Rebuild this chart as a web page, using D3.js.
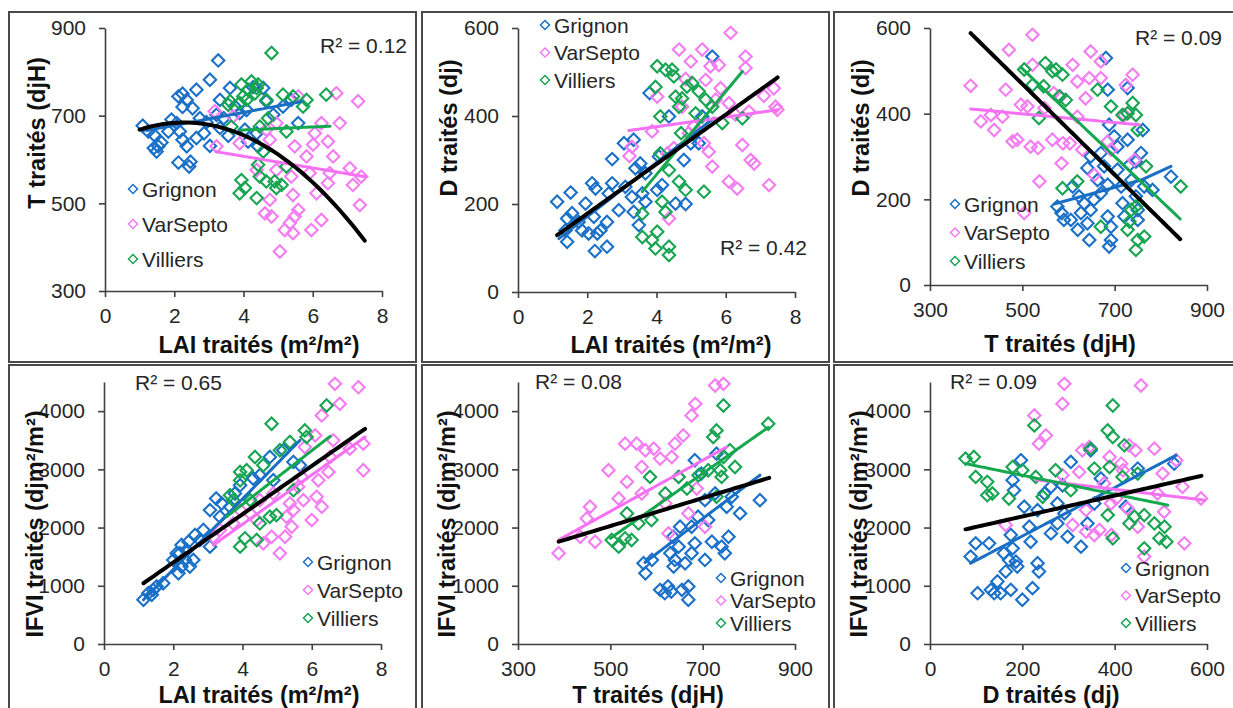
<!DOCTYPE html>
<html>
<head>
<meta charset="utf-8">
<script src="https://cdn.jsdelivr.net/npm/d3@7"></script>
<style>
  html, body { margin: 0; padding: 0; background: #fff; }
  svg { display: block; font-family: "Liberation Sans", Arial, sans-serif; }
</style>
</head>
<body>
<script>
// ---- sites ----
const SITES = ["Grignon", "VarSepto", "Villiers"];

// ---- LAI vs T ----
const laiT_grignon = [[1.09,677],[1.25,664],[1.42,656],[1.41,626],[1.49,618],[1.63,639],[1.54,630],[2.12,744],[2.24,750],[2.36,736],[2.24,720],[2.53,717],[2.64,759],[2.07,683],[2.16,664],[2.24,645],[2.36,630],[2.12,593],[2.47,595],[2.43,584],[2.74,694],[2.86,660],[3.03,782],[3.03,631],[3.27,826],[3.32,736],[3.43,694],[3.56,654],[3.61,763],[3.75,721],[3.89,706],[4.09,713],[4.04,668],[4.13,641],[4.28,765],[4.38,660],[4.57,763],[4.66,733],[4.86,702],[4.42,630],[5.14,721],[5.38,736],[5.58,683],[3.22,702],[3.32,672],[1.83,664],[1.92,691],[2.64,649],[2.93,685]];
const laiT_varsepto = [[3.17,710],[3.22,630],[3.70,698],[3.89,637],[4.62,477],[4.81,470],[4.66,668],[4.76,645],[4.95,576],[5.05,390],[5.19,439],[5.34,455],[5.43,432],[5.48,470],[5.58,485],[5.38,561],[5.43,519],[5.48,630],[5.58,744],[5.82,607],[5.91,569],[6.01,634],[6.06,660],[5.96,439],[6.11,523],[6.25,462],[6.25,683],[6.44,641],[6.49,569],[6.59,607],[6.44,546],[6.68,751],[6.78,683],[7.07,580],[7.16,542],[7.31,733],[7.40,561],[7.36,496],[4.76,508],[4.38,576],[4.95,683]];
const laiT_villiers = [[4.81,843],[3.94,771],[4.23,778],[4.38,763],[4.13,759],[3.99,744],[3.61,733],[3.56,725],[3.89,729],[4.33,751],[4.42,771],[4.66,736],[5.14,748],[5.43,744],[5.82,736],[5.72,721],[6.39,748],[3.65,675],[4.71,694],[4.47,675],[5.24,664],[4.57,618],[4.42,588],[4.47,561],[4.66,550],[3.94,553],[4.04,535],[3.89,523],[4.38,512],[4.90,550],[4.95,535],[5.10,542],[5.24,584],[4.09,736]];

// ---- LAI vs D ----
const laiD_grignon = [[1.13,205],[1.52,226],[1.42,167],[1.56,179],[1.37,140],[1.42,114],[1.75,159],[1.85,140],[2.04,133],[2.14,247],[2.24,235],[2.19,171],[2.29,133],[2.22,93],[2.38,140],[2.57,103],[2.57,159],[2.62,224],[2.72,302],[2.91,186],[3.06,338],[3.10,239],[3.29,216],[3.34,346],[3.39,281],[3.53,292],[3.49,152],[3.34,182],[3.59,224],[3.68,205],[3.80,452],[4.07,308],[4.02,232],[4.16,243],[4.36,399],[4.55,201],[4.79,300],[4.84,200],[4.99,338],[5.22,338],[5.61,535],[5.32,399],[2.72,247],[1.95,201],[3.68,270]];
const laiD_varsepto = [[3.22,309],[4.02,444],[4.31,315],[4.36,167],[4.50,327],[4.65,551],[4.74,421],[4.84,484],[4.99,524],[5.08,376],[5.32,551],[5.42,482],[5.51,319],[5.61,285],[5.56,513],[5.71,437],[5.80,516],[5.85,463],[6.09,429],[6.14,589],[6.09,251],[6.28,403],[6.33,235],[6.48,334],[6.57,509],[6.57,535],[6.67,410],[6.72,300],[6.82,292],[7.10,446],[7.25,243],[7.39,463],[7.44,421],[7.49,414],[3.29,330],[3.87,365],[4.93,361],[5.37,338]];
const laiD_villiers = [[4.02,513],[3.97,466],[4.11,399],[4.26,505],[4.45,505],[4.50,490],[4.55,444],[4.65,421],[4.74,440],[4.88,467],[5.03,475],[5.22,456],[5.42,437],[5.61,421],[5.90,384],[6.48,395],[3.59,178],[3.59,125],[3.87,118],[4.02,137],[3.97,99],[4.36,103],[4.36,84],[4.16,205],[4.26,182],[4.36,277],[4.65,251],[4.84,232],[5.37,228],[4.71,361],[4.11,315],[5.13,406]];

// ---- T vs D ----
const tD_grignon = [[576,183],[585,168],[590,152],[605,152],[620,129],[627,168],[634,191],[645,105],[641,144],[648,175],[655,199],[663,245],[641,273],[648,300],[670,214],[685,234],[688,90],[692,105],[692,136],[685,160],[677,277],[670,308],[681,530],[685,456],[688,374],[699,347],[706,323],[706,269],[714,230],[717,191],[721,160],[728,339],[732,280],[736,245],[728,460],[746,207],[750,175],[750,152],[746,288],[757,308],[761,362],[764,230],[782,222],[822,253],[623,207],[609,230]];
const tD_varsepto = [[388,465],[410,382],[432,397],[439,362],[457,393],[471,549],[464,456],[479,335],[497,421],[518,323],[522,584],[522,514],[534,320],[537,242],[548,413],[565,339],[568,448],[582,440],[585,284],[588,331],[603,331],[609,514],[619,475],[630,316],[637,436],[648,545],[645,483],[656,257],[670,522],[670,483],[685,335],[692,316],[724,467],[739,491],[743,292],[721,397],[619,393],[511,417],[489,339],[504,168]];
const tD_villiers = [[504,503],[522,467],[536,390],[546,464],[550,518],[565,499],[573,503],[587,491],[580,440],[594,432],[663,456],[692,417],[717,397],[728,401],[739,425],[746,397],[750,362],[768,277],[843,230],[587,226],[619,242],[670,136],[728,129],[736,175],[746,183],[750,105],[764,113],[746,82],[732,148]];

// ---- LAI vs IFVI ----
const laiI_grignon = [[1.14,759],[1.28,873],[1.42,930],[1.52,987],[1.71,1044],[1.38,845],[2.15,1215],[2.24,1330],[2.10,1558],[2.24,1700],[2.39,1615],[2.34,1444],[2.48,1330],[2.58,1444],[2.63,1872],[2.87,1957],[3.06,2300],[3.06,1672],[3.24,2499],[3.35,2185],[3.40,2414],[3.64,2357],[3.78,2585],[3.93,2727],[4.31,2842],[4.50,2899],[4.79,3212],[4.89,2813],[5.18,3327],[5.47,3127],[5.66,3070],[2.19,1558],[2.44,1757],[2.77,1786],[2.00,1444]];
const laiI_varsepto = [[3.16,1843],[3.35,1957],[3.73,2071],[3.93,2300],[4.22,2243],[4.41,2128],[4.60,1729],[4.84,1843],[5.08,1558],[5.23,1843],[5.27,2185],[5.37,2414],[5.42,2014],[5.47,2300],[5.61,2699],[5.71,2870],[5.76,2471],[5.80,3384],[6.00,2128],[6.10,3583],[6.14,2528],[6.19,2813],[6.29,2357],[6.29,3926],[6.48,2956],[6.53,3212],[6.67,4468],[6.81,4125],[7.10,3355],[7.35,4411],[7.49,2984],[7.49,3441],[6.62,3498],[4.89,2585],[4.50,2471]];
const laiI_villiers = [[3.64,2556],[3.93,2956],[3.93,2813],[4.12,2984],[4.36,3212],[4.60,3070],[4.84,3783],[5.08,3327],[5.37,3469],[5.80,3669],[5.85,3555],[6.43,4097],[3.93,1672],[4.07,1815],[4.41,1786],[4.50,2071],[4.79,2185],[4.98,2214],[5.47,2642],[4.22,2471],[3.73,2471]];

// ---- T vs IFVI ----
const tI_grignon = [[572,1387],[576,1215],[590,1444],[608,930],[618,873],[625,987],[632,902],[640,1444],[648,1672],[655,930],[669,759],[669,987],[662,1387],[676,1558],[683,1729],[676,2014],[690,2185],[683,3155],[697,2927],[705,2471],[712,2128],[720,1757],[727,2585],[730,3269],[741,1672],[748,1558],[752,2357],[756,1843],[763,2528],[781,2243],[824,2471],[651,2014],[705,1444],[637,1330],[630,1558],[636,1843]];
const tI_varsepto = [[388,1558],[435,1843],[449,2157],[456,2357],[467,1757],[496,2984],[518,2499],[532,3441],[536,2785],[557,3441],[576,3327],[568,3041],[594,3355],[608,3184],[626,1900],[633,3212],[640,3441],[658,3583],[669,2243],[676,3926],[684,4125],[687,2670],[648,2870],[727,4439],[745,4468],[705,2014],[619,2414],[568,2585]];
const tI_villiers = [[503,1786],[518,1672],[536,2243],[546,1786],[532,1815],[561,2071],[586,2870],[589,2128],[619,2585],[648,2870],[666,2670],[691,2899],[712,2984],[723,3555],[730,3669],[745,4097],[738,2984],[745,3212],[759,3327],[770,3041],[730,2528],[842,3783],[741,2870]];

// ---- D vs IFVI ----
const dI_grignon = [[88,1501],[99,1729],[103,873],[128,1729],[132,930],[139,873],[146,1073],[153,873],[160,1558],[164,1244],[175,930],[171,1444],[179,1643],[186,1415],[189,1330],[175,1872],[182,2642],[179,2813],[200,759],[197,3155],[204,2357],[215,2014],[218,1757],[222,959],[233,1387],[236,1244],[233,2300],[248,2585],[262,2699],[276,2414],[276,2071],[287,2727],[305,3127],[298,1843],[327,1672],[341,2071],[348,3327],[370,2842],[356,2414],[424,2357],[450,3013],[529,3098],[291,2243],[262,1900]];
const dI_varsepto = [[164,2043],[226,3926],[236,3441],[251,3583],[291,4468],[287,4125],[287,2899],[309,2043],[323,2956],[330,3327],[338,2300],[345,3384],[338,1929],[356,1872],[367,1957],[377,2756],[389,3212],[393,1872],[403,2499],[414,3098],[418,2984],[428,2328],[431,3412],[445,3327],[450,2014],[457,4439],[464,1501],[486,3355],[504,2927],[507,2271],[533,3155],[551,1729],[547,2699],[587,2499],[493,2585],[392,2414]];
const dI_villiers = [[77,3184],[95,3212],[99,2870],[124,2785],[124,2556],[135,2585],[171,2499],[179,3041],[200,2984],[226,3755],[229,2870],[244,2528],[272,2984],[305,2642],[348,3355],[356,3013],[385,3669],[389,3041],[396,3555],[396,4097],[385,2214],[396,1815],[417,2870],[421,3412],[432,2071],[443,2185],[464,2214],[464,1643],[486,2071],[497,1815],[508,2014],[512,1757],[450,2927]];

// ---- fitted curves: polynomial coefficients (c0 + c1 x + c2 x^2) over an x span, or a polyline ----
const trends_laiT = [
  {site:"Grignon",  coef:[648.3, 14.77],  span:[1.2, 5.67]},
  {site:"VarSepto", coef:[660.4, -13.26], span:[3.2, 7.5]},
  {site:"Villiers", coef:[653.5, 3.46],   span:[3.9, 6.5]},
  {site:"all",      coef:[632.5, 45.38, -9.918], span:[1.0, 7.5]}
];
const trends_laiD = [
  {site:"Grignon",  coef:[49, 61.2],      span:[1.18, 5.66]},
  {site:"VarSepto", coef:[332, 10.93],    span:[3.2, 7.5]},
  {site:"Villiers", coef:[-111.2, 94.5],  span:[3.59, 6.48]},
  {site:"all",      coef:[65.4, 56.3],    span:[1.13, 7.5]}
];
const trends_tD = [
  {site:"Grignon",  points:[[569,189],[650,213],[757,245],[822,277]]},
  {site:"VarSepto", coef:[450.3, -0.1014], span:[388, 753]},
  {site:"Villiers", coef:[1018, -1.026],   span:[497, 842]},
  {site:"all",      coef:[999, -1.0595],   span:[388, 842]}
];
const trends_laiI = [
  {site:"Grignon",  coef:[68, 606],       span:[1.14, 5.66]},
  {site:"VarSepto", coef:[362, 423.5],    span:[3.16, 7.54]},
  {site:"Villiers", coef:[550, 461.9],    span:[3.54, 6.53]},
  {site:"all",      coef:[571, 414.5],    span:[1.14, 7.54]}
];
const trends_tI = [
  {site:"Grignon",  coef:[-2061, 6.02],   span:[575, 824]},
  {site:"VarSepto", coef:[83, 4.39],      span:[388, 752]},
  {site:"Villiers", coef:[-970, 5.57],    span:[500, 842]},
  {site:"all",      coef:[824.4, 2.4035], span:[388, 844]}
];
const trends_dI = [
  {site:"Grignon",  coef:[1020, 4.166],   span:[88, 533]},
  {site:"VarSepto", coef:[3040.5, -0.959],span:[230, 594]},
  {site:"Villiers", coef:[3223, -1.628],  span:[77, 515]},
  {site:"all",      coef:[1831, 1.7965],  span:[77, 588]}
];

// ---- labels ----
const r2Labels = ["R² = 0.12", "R² = 0.42", "R² = 0.09", "R² = 0.65", "R² = 0.08", "R² = 0.09"];
const xTitles = ["LAI traités (m²/m²)", "LAI traités (m²/m²)", "T traités (djH)", "LAI traités (m²/m²)", "T traités (djH)", "D traités (dj)"];
const yTitles = ["T traités (djH)", "D traités (dj)", "D traités (dj)", "IFVI traités (djm²/m²)", "IFVI traités (djm²/m²)", "IFVI traités (djm²/m²)"];
const ticksLAI = [0, 2, 4, 6, 8];
const ticksT = [300, 500, 700, 900];
const ticksD = [0, 200, 400, 600];
const ticksTy = [300, 500, 700, 900];
const ticksDy = [0, 200, 400, 600];
const ticksIFVI = [0, 1000, 2000, 3000, 4000];

// ---- styling ----
const markColor = {Grignon:"#1a70c8", VarSepto:"#f47cf2", Villiers:"#17a552"};
const lineColor = {Grignon:"#1b6fc3", VarSepto:"#f570f2", Villiers:"#15a84f", all:"#000"};
const textColor = "#262626";

const panels = [
  {data:[laiT_grignon, laiT_varsepto, laiT_villiers], trends:trends_laiT,
   xDom:[0,8], xRng:[105,382], xTicks:ticksLAI, yDom:[300,900], yRng:[291,28], yTicks:ticksTy,
   xTitle:{x:259, y:353}, yTitle:{x:45, y:133},
   legend:{x:133, y:189, gap:35}, r2:{x:407, y:45, anchor:"end"}},
  {data:[laiD_grignon, laiD_varsepto, laiD_villiers], trends:trends_laiD,
   xDom:[0,8], xRng:[518,795], xTicks:ticksLAI, yDom:[0,600], yRng:[292,28], yTicks:ticksDy,
   xTitle:{x:671, y:353}, yTitle:{x:457, y:128},
   legend:{x:545, y:25, gap:27.5}, r2:{x:807, y:247, anchor:"end"}},
  {data:[tD_grignon, tD_varsepto, tD_villiers], trends:trends_tD,
   xDom:[300,900], xRng:[930,1207], xTicks:ticksT, yDom:[0,600], yRng:[285,28], yTicks:ticksDy,
   xTitle:{x:1060, y:352}, yTitle:{x:869, y:128},
   legend:{x:955, y:204, gap:28.5}, r2:{x:1222, y:37, anchor:"end"}},
  {data:[laiI_grignon, laiI_varsepto, laiI_villiers], trends:trends_laiI,
   xDom:[0,8], xRng:[104,381], xTicks:ticksLAI, yDom:[0,4500], yRng:[644,382], yTicks:ticksIFVI,
   xTitle:{x:259, y:703}, yTitle:{x:43, y:524},
   legend:{x:308, y:562, gap:28}, r2:{x:135, y:382, anchor:"start"}},
  {data:[tI_grignon, tI_varsepto, tI_villiers], trends:trends_tI,
   xDom:[300,900], xRng:[518,795], xTicks:ticksT, yDom:[0,4500], yRng:[644,382], yTicks:ticksIFVI,
   xTitle:{x:648, y:703}, yTitle:{x:455, y:524},
   legend:{x:721, y:578, gap:22.5}, r2:{x:535, y:381, anchor:"start"}},
  {data:[dI_grignon, dI_varsepto, dI_villiers], trends:trends_dI,
   xDom:[0,600], xRng:[930,1207], xTicks:ticksD, yDom:[0,4500], yRng:[644,382], yTicks:ticksIFVI,
   xTitle:{x:1051, y:703}, yTitle:{x:867, y:524},
   legend:{x:1126, y:568, gap:27.5}, r2:{x:950, y:381, anchor:"start"}}
];

const W = 1233, H = 708;
const svg = d3.select("body").append("svg").attr("width", W).attr("height", H);

// panel frames
const colEdges = [[9, 416], [422, 829], [834, 1242]];
const rowEdges = [[12, 362], [365, 712]];
rowEdges.forEach(r => colEdges.forEach(c => {
  svg.append("rect")
    .attr("x", c[0]).attr("y", r[0])
    .attr("width", c[1] - c[0]).attr("height", r[1] - r[0])
    .attr("fill", "none").attr("stroke", "#4a4a4a").attr("stroke-width", 2);
}));

const diamond = r => `M0,${-r}L${r},0L0,${r}L${-r},0Z`;
const fmt = d3.format("d");

panels.forEach((p, i) => {
  const g = svg.append("g");
  const x = d3.scaleLinear().domain(p.xDom).range(p.xRng);
  const y = d3.scaleLinear().domain(p.yDom).range(p.yRng);

  // axes
  const gx = g.append("g").attr("transform", `translate(0,${y(p.yDom[0])})`)
    .call(d3.axisBottom(x).tickValues(p.xTicks).tickFormat(fmt).tickSize(6).tickSizeOuter(0).tickPadding(11));
  const gy = g.append("g").attr("transform", `translate(${x(p.xDom[0])},0)`)
    .call(d3.axisLeft(y).tickValues(p.yTicks).tickFormat(fmt).tickSize(6).tickSizeOuter(0).tickPadding(13));
  [gx, gy].forEach(a => {
    a.select(".domain").attr("stroke", "#404040").attr("stroke-width", 1.6);
    a.selectAll(".tick line").attr("stroke", "#404040").attr("stroke-width", 1.6);
    a.selectAll(".tick text").attr("fill", textColor)
      .style("font-size", "21px").style("font-family", "'Liberation Sans', Arial, sans-serif");
  });

  // markers
  p.data.forEach((series, si) => {
    const site = SITES[si];
    g.append("g").selectAll("path").data(series).join("path")
      .attr("d", diamond(6.2))
      .attr("transform", d => `translate(${x(d[0])},${y(d[1])})`)
      .attr("fill", "none")
      .attr("stroke", markColor[site])
      .attr("stroke-width", 2.1);
  });

  // fitted curves
  const line = d3.line().x(d => x(d[0])).y(d => y(d[1]));
  p.trends.forEach(t => {
    let pts;
    if (t.points) {
      pts = t.points;
    } else {
      pts = d3.range(0, 61).map(k => {
        const xv = t.span[0] + (t.span[1] - t.span[0]) * k / 60;
        const yv = t.coef.reduce((s, c, e) => s + c * Math.pow(xv, e), 0);
        return [xv, yv];
      });
    }
    g.append("path").datum(pts)
      .attr("d", line)
      .attr("fill", "none")
      .attr("stroke", lineColor[t.site])
      .attr("stroke-width", t.site === "all" ? 4 : 3)
      .attr("stroke-linecap", "round")
      .attr("stroke-linejoin", "round");
  });

  // axis titles
  g.append("text")
    .attr("x", p.xTitle.x).attr("y", p.xTitle.y)
    .attr("text-anchor", "middle")
    .attr("fill", "#111")
    .style("font-size", "23.5px").style("font-weight", "bold")
    .text(xTitles[i]);
  g.append("text")
    .attr("transform", `translate(${p.yTitle.x},${p.yTitle.y}) rotate(-90)`)
    .attr("text-anchor", "middle")
    .attr("fill", "#111")
    .style("font-size", "23.5px").style("font-weight", "bold")
    .text(yTitles[i]);

  // legend
  SITES.forEach((site, k) => {
    const ly = p.legend.y + k * p.legend.gap;
    g.append("path").attr("d", diamond(4.5))
      .attr("transform", `translate(${p.legend.x},${ly})`)
      .attr("fill", "none").attr("stroke", markColor[site]).attr("stroke-width", 1.5);
    g.append("text")
      .attr("x", p.legend.x + 9).attr("y", ly).attr("dy", "0.36em")
      .attr("fill", textColor)
      .style("font-size", "21px")
      .text(site);
  });

  // R² label
  g.append("text")
    .attr("x", p.r2.x).attr("y", p.r2.y).attr("dy", "0.36em")
    .attr("text-anchor", p.r2.anchor)
    .attr("fill", textColor)
    .style("font-size", "21px")
    .text(r2Labels[i]);
});
</script>
</body>
</html>
